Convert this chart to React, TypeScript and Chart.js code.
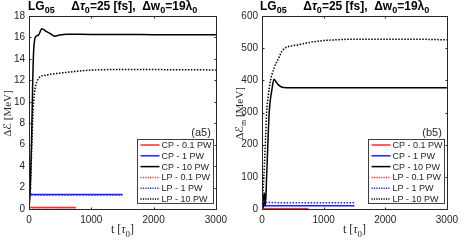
import React, { useEffect, useRef } from "react";
import { Chart, registerables } from "chart.js";
Chart.register(...registerables);

const xTicks = [0, 1000, 2000, 3000];
const legendLabels = ["CP - 0.1 PW", "CP - 1 PW", "CP - 10 PW", "LP - 0.1 PW", "LP - 1 PW", "LP - 10 PW"];
const seriesColors = ["#ff2a2a", "#2020ff", "#000000", "#ff2a2a", "#2020ff", "#000000"];
const seriesDotted = [false, false, false, true, true, true];

// Panel (a5): ΔE [MeV]
const a5YTicks = [0, 2, 4, 6, 8, 10, 12, 14, 16, 18];
const a5_CP01_t = [0, 750];
const a5_CP01_v = [0.15, 0.15];
const a5_CP1_t = [0, 8, 15, 30, 60, 1500];
const a5_CP1_v = [0, 2.0, 1.6, 1.4, 1.35, 1.35];
const a5_CP10_t = [0, 20, 40, 60, 75, 110, 150, 206, 280, 330, 413, 490, 600, 1000, 2000, 3000];
const a5_CP10_v = [0, 2, 6, 12, 14.8, 16.1, 16.2, 16.8, 16.55, 16.4, 16.12, 16.22, 16.3, 16.28, 16.26, 16.25];
const a5_LP01_t = [0, 750];
const a5_LP01_v = [0.12, 0.12];
const a5_LP1_t = [0, 8, 15, 30, 60, 1500];
const a5_LP1_v = [0, 1.9, 1.5, 1.35, 1.3, 1.3];
const a5_LP10_t = [0, 30, 45, 60, 75, 100, 130, 170, 250, 330, 490, 700, 860, 1280, 2000, 3000];
const a5_LP10_v = [0, 3, 6, 8.5, 10, 11.3, 11.9, 12.3, 12.45, 12.55, 12.67, 12.8, 12.9, 13.0, 13.0, 12.97];

// Panel (b5): ΔE_m [MeV]
const b5YTicks = [0, 100, 200, 300, 400, 500, 600];
const b5_CP01_t = [0, 750];
const b5_CP01_v = [1, 1];
const b5_CP1_t = [0, 10, 30, 1500];
const b5_CP1_v = [0, 12, 10, 10];
const b5_CP10_t = [0, 15, 25, 40, 55, 75, 117, 160, 195, 230, 266, 346, 500, 3000];
const b5_CP10_v = [0, 45, 5, 50, 10, 100, 300, 370, 403, 395, 386, 378, 377, 377];
const b5_LP01_t = [0, 750];
const b5_LP01_v = [1.5, 1.5];
const b5_LP1_t = [0, 15, 40, 1500];
const b5_LP1_v = [0, 26, 20, 19.5];
const b5_LP10_t = [0, 30, 60, 75, 100, 139, 200, 260, 340, 580, 840, 1100, 1600, 2400, 3000];
const b5_LP10_v = [0, 100, 230, 300, 350, 400, 440, 465, 495, 510, 520, 525, 528, 528, 526];

const SANS = "'Liberation Sans', Arial, Helvetica, sans-serif";
const SERIF = "'Liberation Serif', 'DejaVu Serif', 'Times New Roman', serif";
const SCRIPT = "'DejaVu Serif', 'DejaVu Sans', serif";
const AX = "#262626";

type Seg = { t: string; sub?: boolean; italic?: boolean; fam?: string };

function segFont(s: Seg, size: number, family: string, weight: string) {
  const sz = s.sub ? Math.round(size * 0.72) : size;
  return `${s.italic ? "italic " : ""}${weight} ${sz}px ${s.fam || family}`;
}

function drawRich(
  ctx: CanvasRenderingContext2D,
  segs: Seg[],
  x: number,
  y: number,
  size: number,
  family: string,
  weight: string,
  align: "left" | "center",
  rotate = false
) {
  ctx.save();
  ctx.translate(x, y);
  if (rotate) ctx.rotate(-Math.PI / 2);
  let total = 0;
  const widths = segs.map((s) => {
    ctx.font = segFont(s, size, family, weight);
    const w = ctx.measureText(s.t).width;
    total += w;
    return w;
  });
  let cx = align === "center" ? -total / 2 : 0;
  ctx.textBaseline = "alphabetic";
  ctx.textAlign = "left";
  segs.forEach((s, i) => {
    ctx.font = segFont(s, size, family, weight);
    ctx.fillText(s.t, cx, s.sub ? size * 0.3 : 0);
    cx += widths[i];
  });
  ctx.restore();
}

type PanelCfg = {
  width: number;
  yMax: number;
  yTicks: number[];
  yAxisW: number;
  ts: number[][];
  vs: number[][];
  yTitle: Seg[];
  tag: string;
};

function makePlugin(cfg: PanelCfg) {
  return {
    id: "panelDecor",
    afterDraw(chart: any) {
      const ctx: CanvasRenderingContext2D = chart.ctx;
      const ca = chart.chartArea;
      const sx = chart.scales.x;
      const sy = chart.scales.y;
      ctx.save();
      ctx.strokeStyle = AX;
      ctx.lineWidth = 1;
      const L = Math.round(ca.left) + 0.5;
      const R = Math.round(ca.right) + 0.5;
      const T = Math.round(ca.top) + 0.5;
      const B = Math.round(ca.bottom) + 0.5;
      ctx.beginPath();
      ctx.rect(L, T, R - L, B - T);
      ctx.stroke();
      const tl = 2;
      ctx.beginPath();
      xTicks.forEach((v) => {
        const px = Math.round(sx.getPixelForValue(v)) + 0.5;
        ctx.moveTo(px, B);
        ctx.lineTo(px, B - tl);
        ctx.moveTo(px, T);
        ctx.lineTo(px, T + tl);
      });
      cfg.yTicks.forEach((v) => {
        const py = Math.round(sy.getPixelForValue(v)) + 0.5;
        ctx.moveTo(L, py);
        ctx.lineTo(L + tl, py);
        ctx.moveTo(R, py);
        ctx.lineTo(R - tl, py);
      });
      ctx.stroke();

      // legend
      const bx0 = Math.round(ca.right - 79) + 0.5;
      const bx1 = Math.round(ca.right - 3) + 0.5;
      const by0 = 139.5;
      const by1 = 203.5;
      ctx.fillStyle = "#ffffff";
      ctx.fillRect(bx0, by0, bx1 - bx0, by1 - by0);
      ctx.strokeStyle = "#404040";
      ctx.strokeRect(bx0, by0, bx1 - bx0, by1 - by0);
      legendLabels.forEach((lab, i) => {
        const yy = 145 + i * 10.8;
        ctx.strokeStyle = seriesColors[i];
        ctx.lineWidth = 1.5;
        ctx.setLineDash(seriesDotted[i] ? [1.2, 1.2] : []);
        ctx.beginPath();
        ctx.moveTo(bx0 + 3, yy);
        ctx.lineTo(bx0 + 22, yy);
        ctx.stroke();
        ctx.setLineDash([]);
        ctx.fillStyle = AX;
        ctx.font = `9px ${SANS}`;
        ctx.textAlign = "left";
        ctx.textBaseline = "middle";
        ctx.fillText(lab, bx0 + 24, yy + 0.5);
      });

      // panel tag
      ctx.fillStyle = AX;
      ctx.font = `11px ${SANS}`;
      ctx.textAlign = "right";
      ctx.textBaseline = "middle";
      ctx.fillText(cfg.tag, ca.right - 5, 133);

      // title
      ctx.fillStyle = "#000000";
      drawRich(
        ctx,
        [
          { t: "LG" },
          { t: "05", sub: true },
          { t: "     Δ" },
          { t: "τ", italic: true },
          { t: "0", sub: true },
          { t: "=25 [fs],  Δw" },
          { t: "0", sub: true },
          { t: "=19λ" },
          { t: "0", sub: true },
        ],
        28,
        9.5,
        12,
        SANS,
        "bold",
        "left"
      );

      // x title
      ctx.fillStyle = AX;
      drawRich(
        ctx,
        [{ t: "t [" }, { t: "τ", italic: true }, { t: "0", sub: true }, { t: "]" }],
        (ca.left + ca.right) / 2,
        233,
        12,
        SERIF,
        "normal",
        "center"
      );
      // y title
      drawRich(ctx, cfg.yTitle, 11, (ca.top + ca.bottom) / 2 + 1, 11, SERIF, "normal", "center", true);
      ctx.restore();
    },
  };
}

function Panel({ cfg, left }: { cfg: PanelCfg; left: number }) {
  const ref = useRef<HTMLCanvasElement>(null);
  useEffect(() => {
    const canvas = ref.current!;
    const datasets = cfg.ts.map((t, i) => ({
      label: legendLabels[i],
      data: t.map((tt, j) => ({ x: tt, y: cfg.vs[i][j] })),
      borderColor: seriesColors[i],
      borderWidth: 1.5,
      borderDash: seriesDotted[i] ? [1.5, 1.5] : [],
      pointRadius: 0,
      fill: false,
      cubicInterpolationMode: "monotone" as const,
      order: 6 - i,
    }));
    const chart = new Chart(canvas, {
      type: "line",
      data: { datasets },
      options: {
        animation: false,
        responsive: false,
        devicePixelRatio: 1,
        layout: { padding: { top: 16, right: cfg.width - 218, left: 0, bottom: 0 } },
        plugins: { legend: { display: false }, tooltip: { enabled: false }, title: { display: false } },
        scales: {
          x: {
            type: "linear",
            min: 0,
            max: 3000,
            grid: { display: false, drawTicks: false },
            border: { display: false },
            afterBuildTicks: (s: any) => {
              s.ticks = xTicks.map((v) => ({ value: v }));
            },
            ticks: {
              font: { family: SANS, size: 10 },
              color: AX,
              padding: 5,
              maxRotation: 0,
              autoSkip: false,
              callback: (v: any) => String(v),
            },
            afterFit: (s: any) => {
              s.height = 31;
            },
          },
          y: {
            type: "linear",
            min: 0,
            max: cfg.yMax,
            grid: { display: false, drawTicks: false },
            border: { display: false },
            afterBuildTicks: (s: any) => {
              s.ticks = cfg.yTicks.map((v) => ({ value: v }));
            },
            ticks: {
              font: { family: SANS, size: 10 },
              color: AX,
              padding: 4,
              autoSkip: false,
              callback: (v: any) => String(v),
            },
            afterFit: (s: any) => {
              s.width = cfg.yAxisW;
            },
          },
        },
      } as any,
      plugins: [makePlugin(cfg)],
    });
    return () => chart.destroy();
  }, []);
  return (
    <canvas
      ref={ref}
      width={cfg.width}
      height={240}
      style={{ position: "absolute", left, top: 0, width: cfg.width, height: 240 }}
    />
  );
}

const cfgA: PanelCfg = {
  width: 232,
  yMax: 18,
  yTicks: a5YTicks,
  yAxisW: 29,
  ts: [a5_CP01_t, a5_CP1_t, a5_CP10_t, a5_LP01_t, a5_LP1_t, a5_LP10_t],
  vs: [a5_CP01_v, a5_CP1_v, a5_CP10_v, a5_LP01_v, a5_LP1_v, a5_LP10_v],
  yTitle: [{ t: "Δ" }, { t: "ℰ", fam: SCRIPT, italic: true }, { t: " [MeV]" }],
  tag: "(a5)",
};

const cfgB: PanelCfg = {
  width: 231,
  yMax: 600,
  yTicks: b5YTicks,
  yAxisW: 30,
  ts: [b5_CP01_t, b5_CP1_t, b5_CP10_t, b5_LP01_t, b5_LP1_t, b5_LP10_t],
  vs: [b5_CP01_v, b5_CP1_v, b5_CP10_v, b5_LP01_v, b5_LP1_v, b5_LP10_v],
  yTitle: [{ t: "Δ" }, { t: "ℰ", fam: SCRIPT, italic: true }, { t: "m", sub: true }, { t: " [MeV]" }],
  tag: "(b5)",
};

export default function App() {
  return (
    <div style={{ position: "fixed", left: 0, top: 0, width: 463, height: 240, background: "#fff", overflow: "hidden" }}>
      <Panel cfg={cfgA} left={0} />
      <Panel cfg={cfgB} left={232} />
    </div>
  );
}
